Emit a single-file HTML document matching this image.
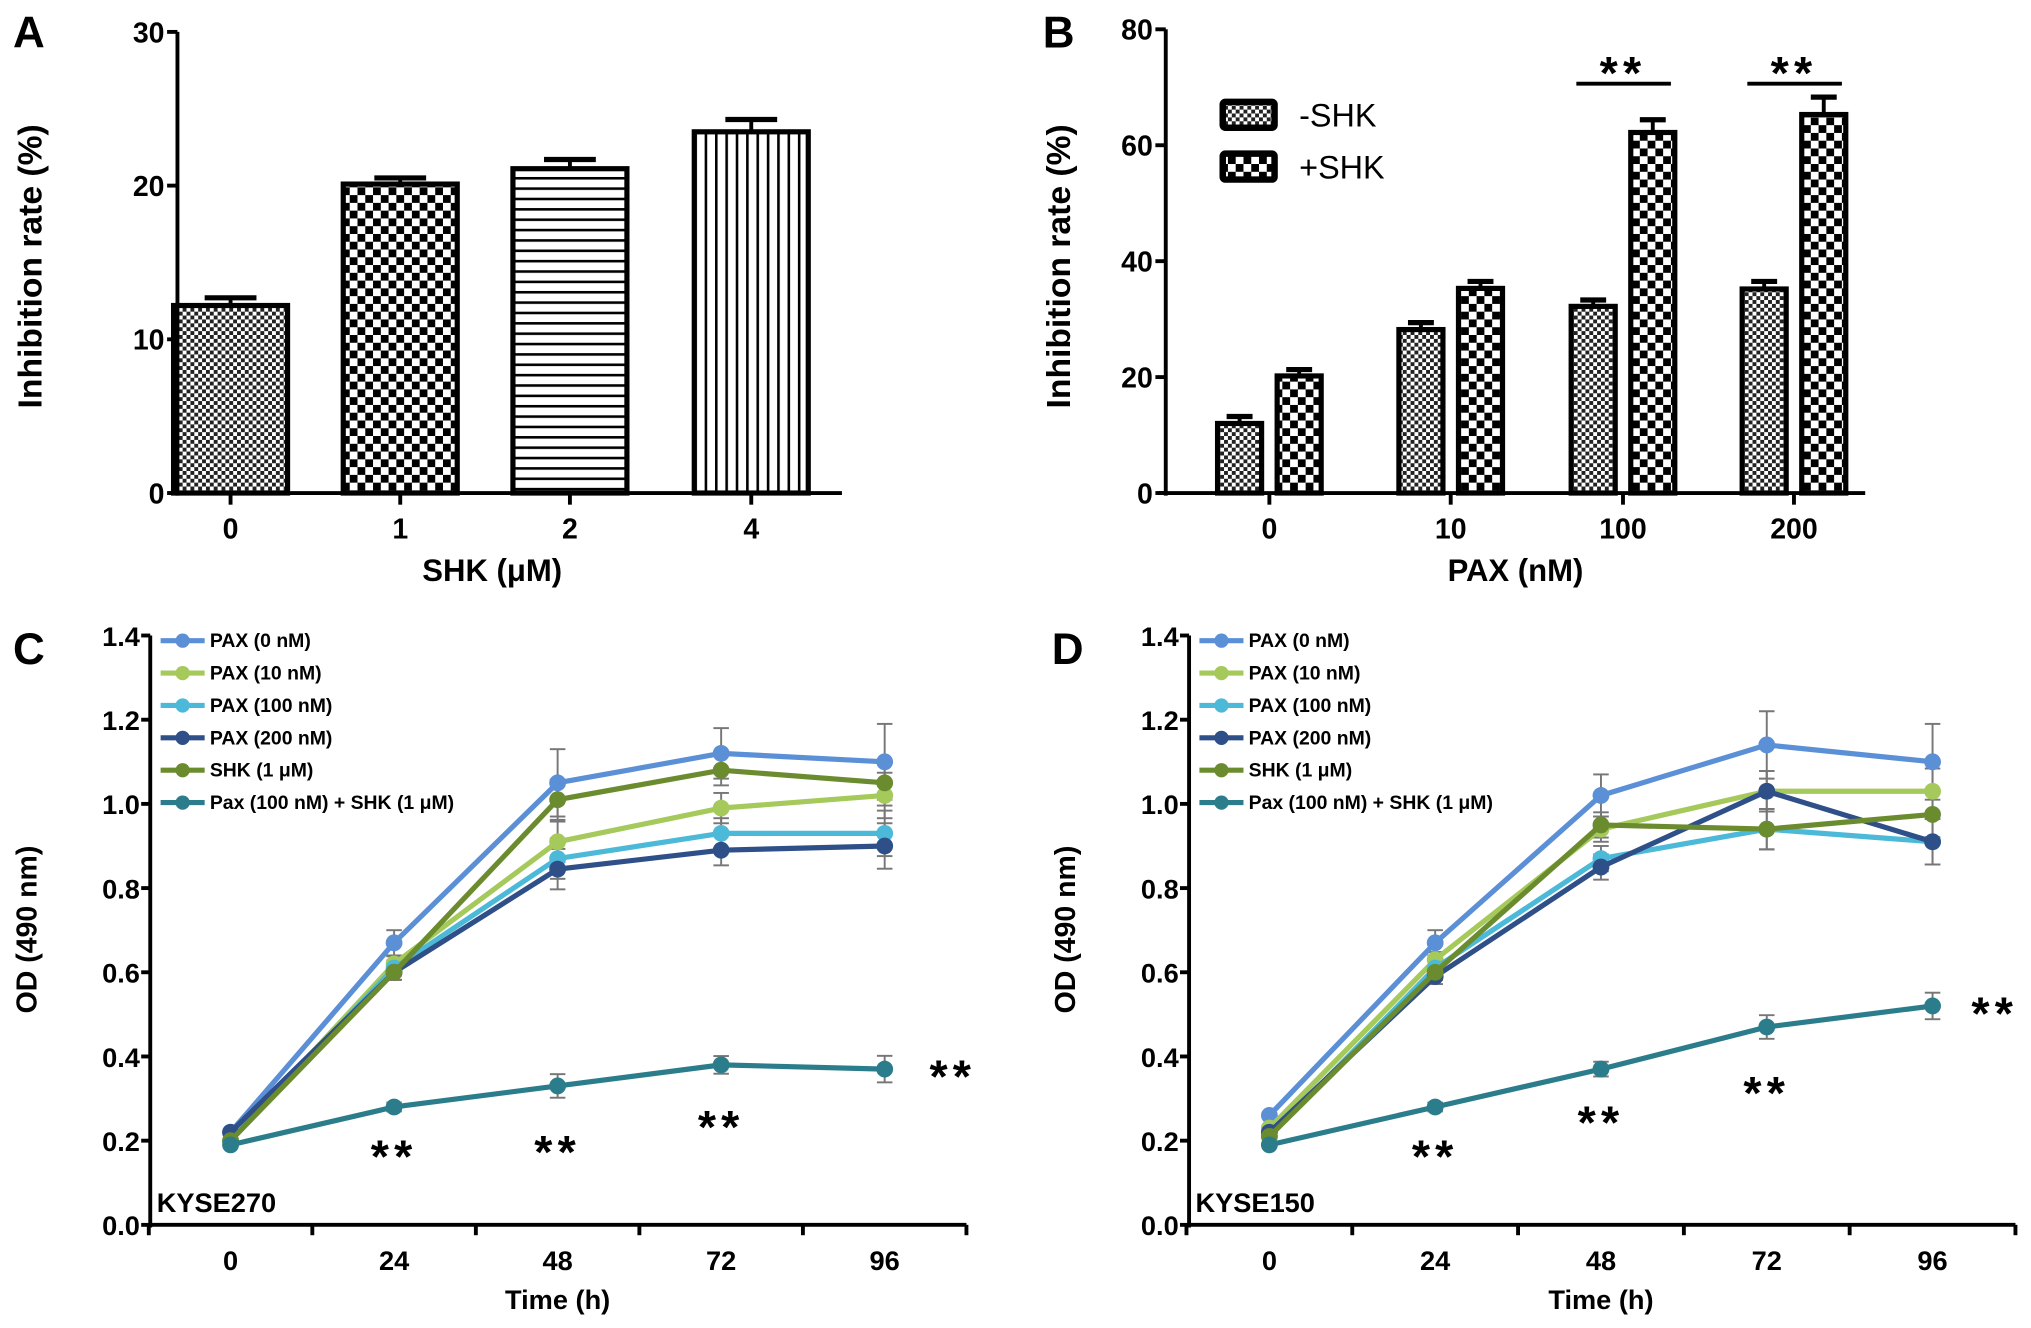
<!DOCTYPE html>
<html><head><meta charset="utf-8"><style>
html,body{margin:0;padding:0;background:#fff}
svg{display:block}
text{font-family:"Liberation Sans",Arial,sans-serif}
</style></head><body>
<svg id="fig" xmlns="http://www.w3.org/2000/svg" width="2031" height="1328" viewBox="0 0 1568 1024">
<defs>
<pattern id="pFine" width="6" height="6" patternUnits="userSpaceOnUse"><rect width="6" height="6" fill="#fff"/><rect width="3" height="3" fill="#222"/><rect x="3" y="3" width="3" height="3" fill="#222"/></pattern>
<pattern id="pCheck" width="12" height="12" patternUnits="userSpaceOnUse"><rect width="12" height="12" fill="#fff"/><rect width="6" height="6" fill="#000"/><rect x="6" y="6" width="6" height="6" fill="#000"/></pattern>
<pattern id="pHor" width="8" height="8" patternUnits="userSpaceOnUse"><rect width="8" height="8" fill="#fff"/><rect width="8" height="2" fill="#000"/></pattern>
<pattern id="pVer" width="8" height="8" patternUnits="userSpaceOnUse"><rect width="8" height="8" fill="#fff"/><rect width="2" height="8" fill="#000"/></pattern>
</defs>
<g id="root"></g>
</svg>
<script>
// Panel A data
const aCats = ['0','1','2','4'];
const aVals = [12.2, 20.1, 21.1, 23.5];
const aErr = [0.5, 0.4, 0.6, 0.8];
const aTicks = [0,10,20,30];
// Panel B data
const bCats = ['0','10','100','200'];
const bMinus = [12, 28.2, 32.2, 35.2];
const bPlus = [20.2, 35.3, 62.2, 65.3];
const bMinusErr = [1.2, 1.2, 1.1, 1.3];
const bPlusErr = [1.1, 1.2, 2.2, 3.0];
const bTicks = [0,20,40,60,80];
// Panels C/D
const timeCats = [0,24,48,72,96];
const odTicks = ['0.0','0.2','0.4','0.6','0.8','1.0','1.2','1.4'];
const seriesNames = ['PAX (0 nM)','PAX (10 nM)','PAX (100 nM)','PAX (200 nM)','SHK (1 μM)','Pax (100 nM) + SHK  (1 μM)'];
const c_pax0 = [0.22,0.67,1.05,1.12,1.10];
const c_pax10 = [0.20,0.62,0.91,0.99,1.02];
const c_pax100 = [0.20,0.61,0.87,0.93,0.93];
const c_pax200 = [0.22,0.60,0.845,0.89,0.90];
const c_shk = [0.20,0.60,1.01,1.08,1.05];
const c_combo = [0.19,0.28,0.33,0.38,0.37];
const c_err = [0.01,0.03,0.08,0.06,0.09];
const d_pax0 = [0.26,0.67,1.02,1.14,1.10];
const d_pax10 = [0.23,0.63,0.94,1.03,1.03];
const d_pax100 = [0.21,0.61,0.87,0.94,0.91];
const d_pax200 = [0.22,0.59,0.85,1.03,0.91];
const d_shk = [0.21,0.60,0.95,0.94,0.975];
const d_combo = [0.19,0.28,0.37,0.47,0.52];
const d_err = [0.01,0.03,0.05,0.08,0.09];

const NS='http://www.w3.org/2000/svg';
const root=document.getElementById('root');
function el(tag,attrs,parent,txt){const e=document.createElementNS(NS,tag);for(const k in attrs)e.setAttribute(k,attrs[k]);if(txt!==undefined)e.textContent=txt;(parent||root).appendChild(e);return e;}
function grp(name){const g=el('g',{},root);return g;}

// ---------- Panel A ----------
(function(){
 const g=grp('panel-a');
 const x0=137,x1=650,yb=380,yt=24,ymax=30;
 const ys=v=>yb-(v/ymax)*(yb-yt);
 const cx=[178,309,440,580];
 const fills=['url(#pFine)','url(#pCheck)','url(#pHor)','url(#pVer)'];
 el('text',{x:10,y:36,'font-size':34,'font-weight':'bold'},g,'A');
 aVals.forEach((v,i)=>{
  const r=el('rect',{x:cx[i]-44,y:ys(v),width:88,height:yb-ys(v),fill:fills[i],stroke:'#000','stroke-width':4},g);
  
  
  el('line',{x1:cx[i],x2:cx[i],y1:ys(v),y2:ys(v+aErr[i]),stroke:'#000','stroke-width':3},g);
  el('line',{x1:cx[i]-20,x2:cx[i]+20,y1:ys(v+aErr[i]),y2:ys(v+aErr[i]),stroke:'#000','stroke-width':4},g);
  el('line',{x1:cx[i],x2:cx[i],y1:yb,y2:yb+9,stroke:'#000','stroke-width':3},g);
  el('text',{x:cx[i],y:415,'font-size':22,'font-weight':'bold','text-anchor':'middle'},g,aCats[i]);
 });
 el('line',{x1:x0,x2:x0,y1:yt,y2:yb+2,stroke:'#000','stroke-width':3},g);
 el('line',{x1:x0-6,x2:x1,y1:yb,y2:yb,stroke:'#000','stroke-width':3},g);
 aTicks.forEach(t=>{el('line',{x1:x0-8,x2:x0,y1:ys(t),y2:ys(t),stroke:'#000','stroke-width':3},g);
  el('text',{x:x0-10,y:ys(t)+8,'font-size':22,'font-weight':'bold','text-anchor':'end'},g,t);});
 el('text',{x:380,y:448,'font-size':24,'font-weight':'bold','text-anchor':'middle'},g,'SHK (μM)');
 el('text',{x:32,y:205,'font-size':26,'font-weight':'bold','text-anchor':'middle',transform:'rotate(-90 32 205)'},g,'Inhibition rate (%)');
})();

// ---------- Panel B ----------
(function(){
 const g=grp('panel-b');
 const x0=900,x1=1440,yb=380,yt=22,ymax=80;
 const ys=v=>yb-(v/ymax)*(yb-yt);
 const cx=[980,1120,1253,1385];
 el('text',{x:805,y:36,'font-size':34,'font-weight':'bold'},g,'B');
 cx.forEach((c,i)=>{
  [[bMinus,bMinusErr,-23,'url(#pFine)','minus'],[bPlus,bPlusErr,23,'url(#pCheck)','plus']].forEach(([arr,er,off,f,nm])=>{
   const v=arr[i],bx=c+off;
   const r=el('rect',{x:bx-17,y:ys(v),width:34,height:yb-ys(v),fill:f,stroke:'#000','stroke-width':4},g);
   
   
   el('line',{x1:bx,x2:bx,y1:ys(v),y2:ys(v+er[i]),stroke:'#000','stroke-width':3},g);
   el('line',{x1:bx-10,x2:bx+10,y1:ys(v+er[i]),y2:ys(v+er[i]),stroke:'#000','stroke-width':4},g);
  });
  el('line',{x1:c,x2:c,y1:yb,y2:yb+9,stroke:'#000','stroke-width':3},g);
  el('text',{x:c,y:415,'font-size':22,'font-weight':'bold','text-anchor':'middle'},g,bCats[i]);
 });
 [2,3].forEach(i=>{const c=cx[i];
  el('line',{x1:c-36,x2:c+37,y1:64,y2:64,stroke:'#000','stroke-width':3},g);
  el('text',{x:c,y:68,'font-size':36,'font-weight':'bold','text-anchor':'middle','letter-spacing':4},g,'**');});
 el('line',{x1:x0,x2:x0,y1:yt,y2:yb+2,stroke:'#000','stroke-width':3},g);
 el('line',{x1:x0-6,x2:x1,y1:yb,y2:yb,stroke:'#000','stroke-width':3},g);
 bTicks.forEach(t=>{el('line',{x1:x0-8,x2:x0,y1:ys(t),y2:ys(t),stroke:'#000','stroke-width':3},g);
  el('text',{x:x0-10,y:ys(t)+8,'font-size':22,'font-weight':'bold','text-anchor':'end'},g,t);});
 const lg=el('g',{},g);
 el('rect',{x:944,y:78,width:40,height:20,fill:'url(#pFine)',stroke:'#000','stroke-width':5,rx:2},lg);
 el('text',{x:1003,y:97,'font-size':25},lg,'-SHK');
 el('rect',{x:944,y:118,width:40,height:20,fill:'url(#pCheck)',stroke:'#000','stroke-width':5,rx:2},lg);
 el('text',{x:1003,y:137,'font-size':25},lg,'+SHK');
 el('text',{x:1170,y:448,'font-size':24,'font-weight':'bold','text-anchor':'middle'},g,'PAX (nM)');
 el('text',{x:826,y:205,'font-size':26,'font-weight':'bold','text-anchor':'middle',transform:'rotate(-90 826 205)'},g,'Inhibition rate (%)');
})();

// ---------- Panels C / D ----------
const colors=['#5b8fd6','#a5c95b','#4cb9d9','#2f4f88','#6b8b2f','#2b7d8b'];
function linePanel(name,label,x0,xzero,xpx,series,err,cell,stars,lgx){
 const g=grp(name);
 const yb=945,yt=490;
 const ys=v=>yb-(v/1.4)*(yb-yt);
 const xs=t=>xzero+t*xpx;
 el('text',{x:x0-106,y:512,'font-size':34,'font-weight':'bold'},g,label);
 series.forEach((s,si)=>{
  s.forEach((v,i)=>{if(i===0)return;const e=err[i]*(si===5?0.35:(si===0?1:0.6));
   el('line',{x1:xs(timeCats[i]),x2:xs(timeCats[i]),y1:ys(v-e),y2:ys(v+e),stroke:'#777','stroke-width':1.5},g);
   [v-e,v+e].forEach(w=>el('line',{x1:xs(timeCats[i])-6,x2:xs(timeCats[i])+6,y1:ys(w),y2:ys(w),stroke:'#777','stroke-width':1.5},g));});
 });
 series.forEach((s,si)=>{
  const p=el('polyline',{points:s.map((v,i)=>xs(timeCats[i])+','+ys(v)).join(' '),fill:'none',stroke:colors[si],'stroke-width':4},g);
  
  
  s.forEach((v,i)=>{const c=el('circle',{cx:xs(timeCats[i]),cy:ys(v),r:6.5,fill:colors[si]},g);
   
   });
 });
 const xend=xs(108);
 el('line',{x1:x0,x2:x0,y1:yt,y2:yb+2,stroke:'#000','stroke-width':3},g);
 el('line',{x1:x0,x2:xend,y1:yb,y2:yb,stroke:'#000','stroke-width':3},g);
 odTicks.forEach(t=>{const y=ys(parseFloat(t));el('line',{x1:x0-7,x2:x0,y1:y,y2:y,stroke:'#000','stroke-width':3},g);
  el('text',{x:x0-8,y:y+8,'font-size':21,'font-weight':'bold','text-anchor':'end'},g,t);});
 [-12,12,36,60,84,108].forEach(t=>el('line',{x1:xs(t),x2:xs(t),y1:yb,y2:yb+8,stroke:'#000','stroke-width':3},g));
 timeCats.forEach(t=>el('text',{x:xs(t),y:980,'font-size':21,'font-weight':'bold','text-anchor':'middle'},g,t));
 el('text',{x:xs(48),y:1010,'font-size':21,'font-weight':'bold','text-anchor':'middle'},g,'Time (h)');
 el('text',{x:x0+5,y:935,'font-size':21,'font-weight':'bold'},g,cell);
 el('text',{x:x0-88,y:717,'font-size':22,'font-weight':'bold','text-anchor':'middle',transform:'rotate(-90 '+(x0-88)+' 717)'},g,'OD (490 nm)');
 stars.forEach(([t,v])=>el('text',{x:xs(t),y:ys(v)+18,'font-size':36,'font-weight':'bold','text-anchor':'middle','letter-spacing':4},g,'**'));
 const lg=el('g',{},g);
 seriesNames.forEach((n,i)=>{const y=494+i*25;
  el('line',{x1:lgx,x2:lgx+34,y1:y,y2:y,stroke:colors[i],'stroke-width':4},lg);
  el('circle',{cx:lgx+17,cy:y,r:5.5,fill:colors[i]},lg);
  el('text',{x:lgx+38,y:y+5,'font-size':15,'font-weight':'bold'},lg,n);});
}
linePanel('panel-c','C',116,178,505/96,[c_pax0,c_pax10,c_pax100,c_pax200,c_shk,c_combo],c_err,'KYSE270',[[24,0.18],[48,0.19],[72,0.25],[106,0.37]],124);
linePanel('panel-d','D',918,980,512/96,[d_pax0,d_pax10,d_pax100,d_pax200,d_shk,d_combo],d_err,'KYSE150',[[24,0.18],[48,0.26],[72,0.33],[105,0.52]],926);
</script>
</body></html>
